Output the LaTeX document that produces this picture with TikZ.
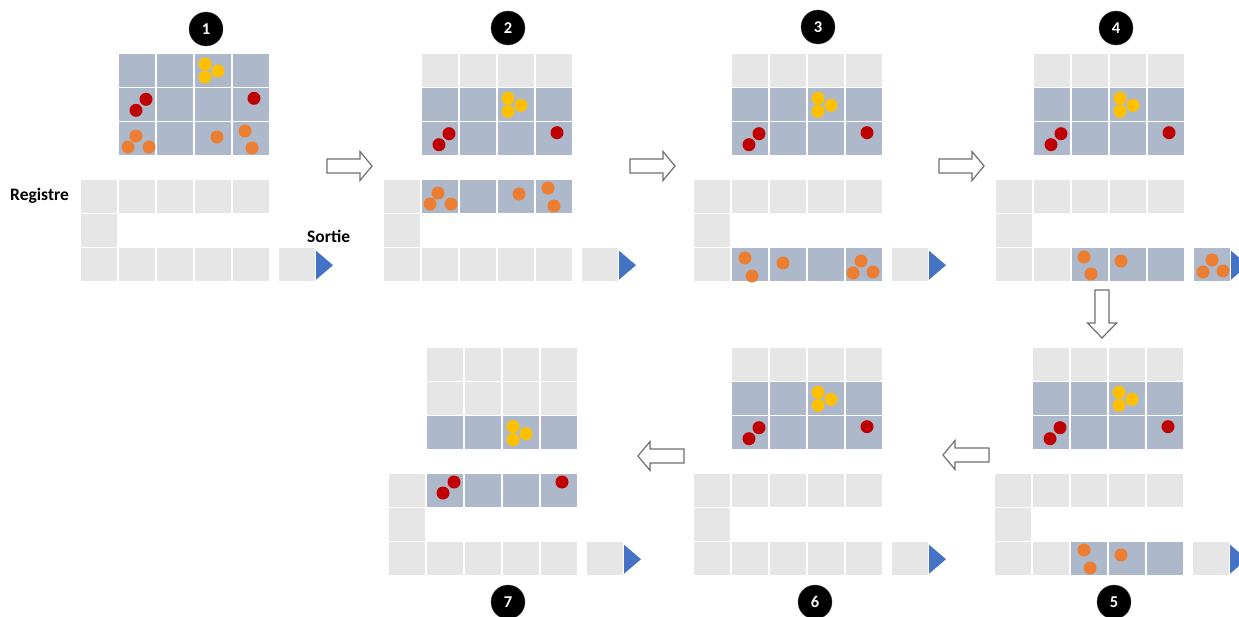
\documentclass[tikz,border=0pt]{standalone}
\usepackage{fontspec}
\setmainfont{Carlito}
\definecolor{cgray}{HTML}{E7E6E6}
\definecolor{cblue}{HTML}{ADB9CA}
\definecolor{cyel}{HTML}{FFC000}
\definecolor{cred}{HTML}{C00000}
\definecolor{corg}{HTML}{ED7D31}
\definecolor{ctri}{HTML}{4472C4}
\definecolor{carr}{HTML}{6F6F6F}
\newcommand\cellbox[3]{\filldraw[fill=#3,draw=white,line width=1.2pt] (#1,#2) rectangle ++(38,34.33);}
\newcommand\cellrow[3]{\foreach \cc [count=\ii from 0] in {#3} {\cellbox{#1+38*\ii}{#2}{\cc}}}
\newcommand\panelgrid[9]{%
 \cellrow{#1+38}{#2}{#3}
 \cellrow{#1+38}{#2+34.33}{#4}
 \cellrow{#1+38}{#2+68.67}{#5}
 \cellrow{#1}{#2+126}{#6}
 \cellrow{#1}{#2+160.33}{#7}
 \cellrow{#1}{#2+194.67}{#8}
 \cellbox{#1+198}{#2+194.67}{#9}
 \fill[ctri] (#1+236,#2+197.7) -- (#1+253,#2+212.2) -- (#1+236,#2+226.7) -- cycle;
}
\newcommand\dotat[3]{\fill[#1] (#2,#3) circle[radius=6.5pt];}
\newcommand\yelc[2]{\dotat{cyel}{#1+11}{#2+11}\dotat{cyel}{#1+24}{#2+18}\dotat{cyel}{#1+11}{#2+24}}
\newcommand\redpair[2]{\dotat{cred}{#1+28}{#2+12}\dotat{cred}{#1+18}{#2+23}}
\newcommand\redone[2]{\dotat{cred}{#1+22}{#2+11}}
\newcommand\arrR[2]{\draw[arrowst] (#1,#2-7) -- (#1+33,#2-7) -- (#1+33,#2-14.5) -- (#1+45,#2) -- (#1+33,#2+14.5) -- (#1+33,#2+7) -- (#1,#2+7) -- cycle;}
\newcommand\arrL[2]{\draw[arrowst] (#1+46,#2-7) -- (#1+12,#2-7) -- (#1+12,#2-14.5) -- (#1,#2) -- (#1+12,#2+14.5) -- (#1+12,#2+7) -- (#1+46,#2+7) -- cycle;}
\newcommand\arrD[2]{\draw[arrowst] (#1-7,#2) -- (#1-7,#2+33) -- (#1-14.5,#2+33) -- (#1,#2+48) -- (#1+14.5,#2+33) -- (#1+7,#2+33) -- (#1+7,#2) -- cycle;}
\begin{document}
\begin{tikzpicture}[x=1pt,y=-1pt,
  arrowst/.style={draw=carr,fill=white,line width=1.2pt,line join=miter},
  numc/.style={circle,fill=black,draw=black!70,line width=0.4pt,minimum size=34pt,inner sep=0pt,text=white,font=\bfseries\fontsize{16.5}{16.5}\selectfont},
  lbl/.style={inner sep=0pt,font=\bfseries\fontsize{17.5}{18}\selectfont}]
\useasboundingbox (0,0) rectangle (1239,616);
\clip (0,0) rectangle (1239,616);
% panel 1
\panelgrid{80}{53}{cblue,cblue,cblue,cblue}{cblue,cblue,cblue,cblue}{cblue,cblue,cblue,cblue}{cgray,cgray,cgray,cgray,cgray}{cgray,white,white,white,white}{cgray,cgray,cgray,cgray,cgray}{cgray}
\yelc{194}{53}
\redpair{118}{87.33}
\redone{232}{87.33}
\foreach \p in {(136,136),(128,147),(149,147),(217,137),(245,131),(252,148)} {\fill[corg] \p circle[radius=6.5pt];}
% panel 2
\panelgrid{383}{53}{cgray,cgray,cgray,cgray}{cblue,cblue,cblue,cblue}{cblue,cblue,cblue,cblue}{cgray,cblue,cblue,cblue,cblue}{cgray,white,white,white,white}{cgray,cgray,cgray,cgray,cgray}{cgray}
\yelc{497}{87.33}
\redpair{421}{121.67}
\redone{535}{121.67}
\foreach \p in {(438,193),(430,204),(451,204),(519,194),(548,188),(554,206)} {\fill[corg] \p circle[radius=6.5pt];}
% panel 3
\panelgrid{693}{53}{cgray,cgray,cgray,cgray}{cblue,cblue,cblue,cblue}{cblue,cblue,cblue,cblue}{cgray,cgray,cgray,cgray,cgray}{cgray,white,white,white,white}{cgray,cblue,cblue,cblue,cblue}{cgray}
\yelc{807}{87.33}
\redpair{731}{121.67}
\redone{845}{121.67}
\foreach \p in {(745,258),(752,276),(783,263),(861,261),(853,273),(873,272)} {\fill[corg] \p circle[radius=6.5pt];}
% panel 4
\panelgrid{995}{53}{cgray,cgray,cgray,cgray}{cblue,cblue,cblue,cblue}{cblue,cblue,cblue,cblue}{cgray,cgray,cgray,cgray,cgray}{cgray,white,white,white,white}{cgray,cgray,cblue,cblue,cblue}{cblue}
\yelc{1109}{87.33}
\redpair{1033}{121.67}
\redone{1147}{121.67}
\foreach \p in {(1084,257),(1091,274),(1121,261),(1212,260),(1203,272),(1223,271)} {\fill[corg] \p circle[radius=6.5pt];}
% panel 5
\panelgrid{994}{347}{cgray,cgray,cgray,cgray}{cblue,cblue,cblue,cblue}{cblue,cblue,cblue,cblue}{cgray,cgray,cgray,cgray,cgray}{cgray,white,white,white,white}{cgray,cgray,cblue,cblue,cblue}{cgray}
\yelc{1108}{381.33}
\redpair{1032}{415.67}
\redone{1146}{415.67}
\foreach \p in {(1084,550),(1090,568),(1121,555)} {\fill[corg] \p circle[radius=6.5pt];}
% panel 6
\panelgrid{693}{347}{cgray,cgray,cgray,cgray}{cblue,cblue,cblue,cblue}{cblue,cblue,cblue,cblue}{cgray,cgray,cgray,cgray,cgray}{cgray,white,white,white,white}{cgray,cgray,cgray,cgray,cgray}{cgray}
\yelc{807}{381.33}
\redpair{731}{415.67}
\redone{845}{415.67}
% panel 7
\panelgrid{388}{347}{cgray,cgray,cgray,cgray}{cgray,cgray,cgray,cgray}{cblue,cblue,cblue,cblue}{cgray,cblue,cblue,cblue,cblue}{cgray,white,white,white,white}{cgray,cgray,cgray,cgray,cgray}{cgray}
\yelc{502}{415.67}
\foreach \p in {(454,482),(443,493),(562,482)} {\fill[cred] \p circle[radius=6.5pt];}
% arrows
\arrR{327}{166}
\arrR{630}{166}
\arrR{939}{166}
\arrD{1102}{290}
\arrL{943}{455}
\arrL{638}{456}
% numbers
\node[numc] (n1) at (206,29) {1};
\node[numc] (n2) at (508,28) {2};
\node[numc] (n3) at (818,27) {3};
\node[numc] (n4) at (1116,28) {4};
\node[numc] (n5) at (1114,602) {5};
\node[numc] (n6) at (815,602) {6};
\node[numc] (n7) at (508,602) {7};
% labels
\node[lbl,anchor=base west] (reg) at (10,200) {Registre};
\node[lbl,anchor=base west] (sortie) at (307,242) {Sortie};
\end{tikzpicture}
\end{document}
